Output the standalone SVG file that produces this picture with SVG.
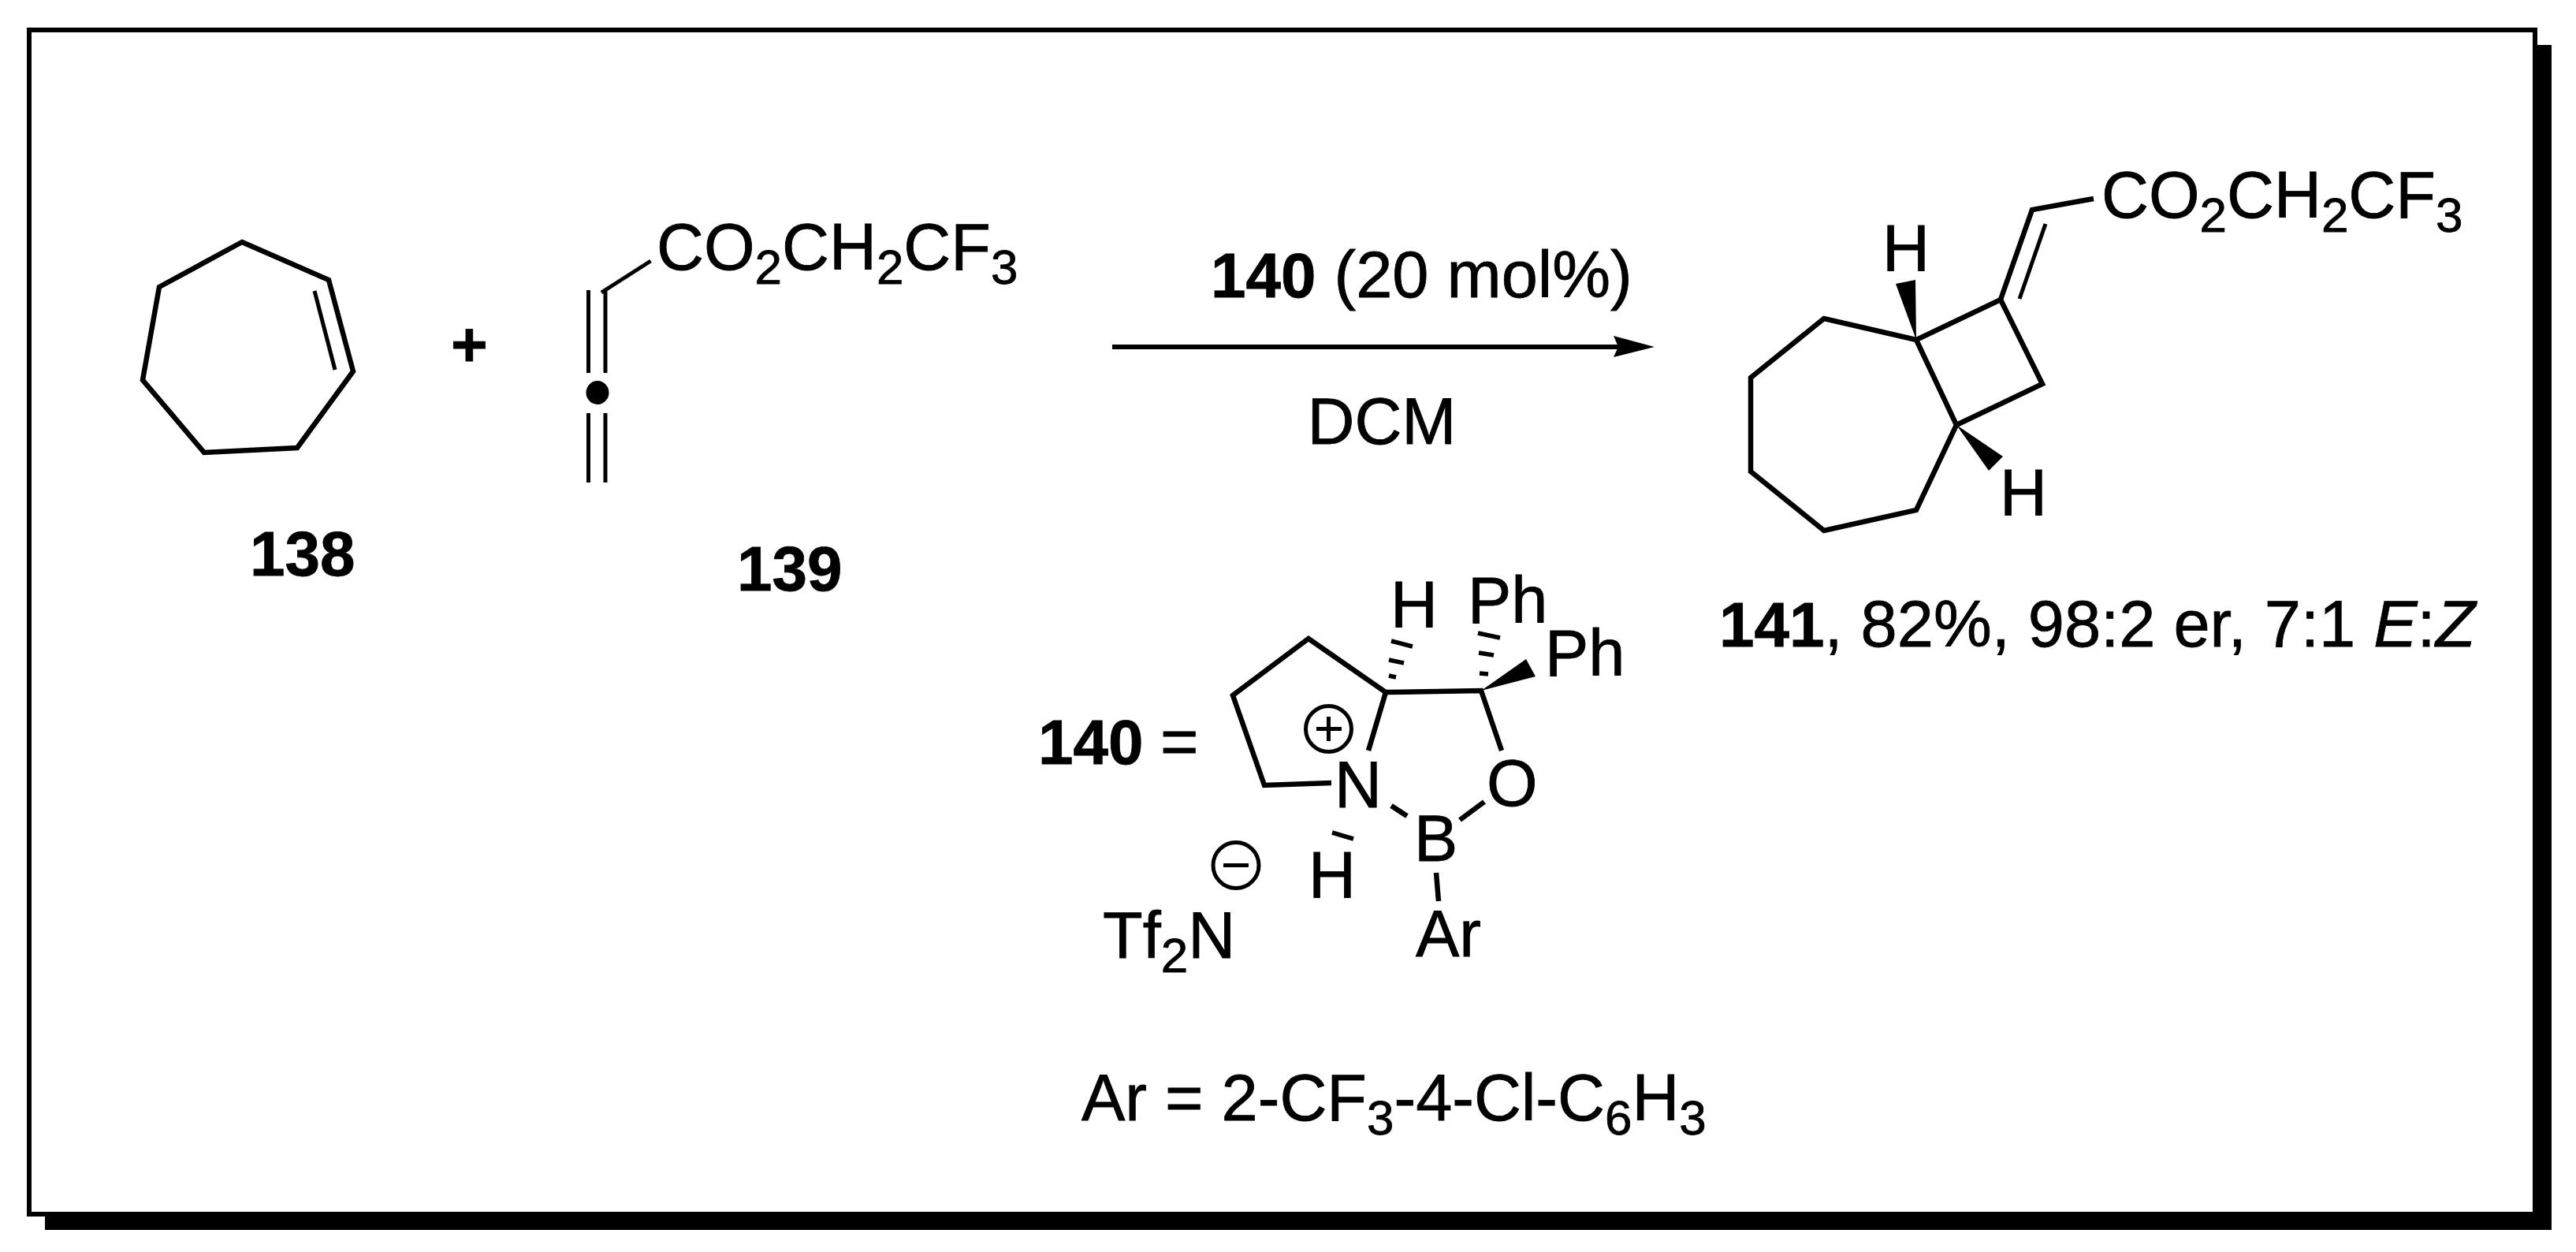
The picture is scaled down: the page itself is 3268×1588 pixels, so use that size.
<svg xmlns="http://www.w3.org/2000/svg" width="3268" height="1588" viewBox="0 0 3268 1588">
<style>
text{font-family:"Liberation Sans",Arial,sans-serif;font-size:83px;fill:#000;stroke:#000;stroke-width:.8}
.b{font-weight:700;font-size:80px}
.s{font-size:62px}
.i{font-style:italic}
.l{fill:none;stroke:#000;stroke-width:6.5;stroke-linejoin:miter;stroke-linecap:butt}
.t{fill:none;stroke:#000;stroke-width:5}
.h{fill:none;stroke:#000;stroke-width:5.5}
</style>
<rect width="3268" height="1588" fill="#fff"/>
<g id="frame">
<rect x="57" y="57" width="3180" height="1503" fill="#000"/>
<rect x="37" y="38" width="3179" height="1502" fill="#fff" stroke="#000" stroke-width="6"/>
</g>
<g id="connectors">
<path d="M1411 440H2060" fill="none" stroke="#000" stroke-width="6"/>
<path d="M2099 440L2047 426L2053 440L2047 453Z" fill="#000"/>
</g>
<g id="n138">
<path class="l" d="M307 307L417 355L448 471L377 568L259 574L181 482L202 364Z"/>
<path class="t" d="M399 369L425 469"/>
<text class="b" x="317" y="730">138</text>
</g>
<text id="plus" class="b" x="572" y="464">+</text>
<g id="n139">
<path class="t" d="M746.5 368V473M768 366V473M746.5 524V612M768 524V612M763 371L825.5 331"/>
<ellipse cx="758" cy="498" rx="14.5" ry="15" fill="#000"/>
<text x="833" y="342">CO<tspan class="s" dy="18">2</tspan><tspan dy="-18">CH</tspan><tspan class="s" dy="18">2</tspan><tspan dy="-18">CF</tspan><tspan class="s" dy="18">3</tspan></text>
<text class="b" x="935" y="749">139</text>
</g>
<g id="conditions">
<text x="1536" y="377"><tspan class="b">140</tspan> (20 mol%)</text>
<text x="1753" y="563" text-anchor="middle">DCM</text>
</g>
<g id="n141">
<path class="l" d="M2431 431L2314 404L2221 479V598L2314 673L2431 647L2482 539L2431 431L2538 380L2591 487L2482 539"/>
<path class="l" d="M2538 380L2578 266L2656 252"/>
<path class="t" d="M2562 379L2595 284"/>
<path d="M2431 431L2405 360L2430 355Z" fill="#000"/>
<path d="M2482 539L2541 579L2523 597Z" fill="#000"/>
<text x="2388" y="344">H</text>
<text x="2537" y="654">H</text>
<text x="2666" y="276">CO<tspan class="s" dy="18">2</tspan><tspan dy="-18">CH</tspan><tspan class="s" dy="18">2</tspan><tspan dy="-18">CF</tspan><tspan class="s" dy="18">3</tspan></text>
<text x="2181" y="820"><tspan class="b">141</tspan>, 82%, 98:2 er, 7:1 <tspan class="i">E</tspan>:<tspan class="i">Z</tspan></text>
</g>
<g id="n140">
<text x="1317" y="969"><tspan class="b">140</tspan></text>
<text x="1472" y="969">=</text>
<path class="l" d="M1736 952L1758 878L1660 810L1564 882L1604 996L1689 993"/>
<path class="l" d="M1758 878L1879 876L1905 952M1765 1022L1785 1035M1852 1040L1883 1017M1822 1107L1825 1143"/>
<path d="M1879 876L1936 836L1948 858Z" fill="#000"/>
<path class="h" d="M1762 857L1771 859M1762 837L1781 841M1765 813L1792 820M1877 854L1888 855M1876 828L1895 831M1875 803L1903 809M1690 1056L1717 1064"/>
<text x="1764" y="796">H</text>
<text x="1862" y="790">Ph</text>
<text x="1960" y="857">Ph</text>
<text x="1693" y="1024">N</text>
<text x="1886" y="1022">O</text>
<text x="1794" y="1092">B</text>
<text x="1660" y="1139">H</text>
<text x="1796" y="1213">Ar</text>
<text x="1399" y="1215">Tf<tspan class="s" dy="18">2</tspan><tspan dy="-18">N</tspan></text>
<circle cx="1685.5" cy="924.5" r="29" class="t"/>
<path class="t" d="M1670 924.5H1702M1685.5 909V940"/>
<circle cx="1568" cy="1097.5" r="29" class="t"/>
<path class="t" d="M1552 1097.5H1584"/>
<text x="1372" y="1421">Ar = 2-CF<tspan class="s" dy="18">3</tspan><tspan dy="-18">-4-Cl-C</tspan><tspan class="s" dy="18">6</tspan><tspan dy="-18">H</tspan><tspan class="s" dy="18">3</tspan></text>
</g>
</svg>
